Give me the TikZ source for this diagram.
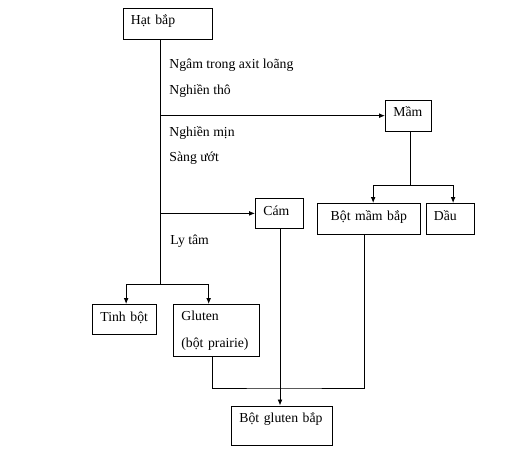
\documentclass[tikz,border=0pt]{standalone}
\usepackage{fontspec}
\setmainfont{Liberation Serif}
\usepackage{tikz}
\usetikzlibrary{arrows.meta}
\tikzset{
  box node/.style={draw,anchor=north west,inner xsep=6pt,inner ysep=0pt,align=left},
  line node/.style={box node,text height=12.75pt},
  label node/.style={anchor=base west,inner sep=0pt}
}

\begin{document}
\begin{tikzpicture}[x=0.75pt,y=-0.75pt,line width=0.6pt,
                    >={Latex[length=4.5pt,width=3.6pt]},
                    every node/.style={font=\fontsize{10.3}{20}\selectfont}]
  \useasboundingbox (0,0) rectangle (517,457);
  % boxes
  \node [line node,text width=55.1pt,text depth=10.9pt] (hat) at (122.5,7.5) {Hạt bắp};
  \node [line node,text width=22.5pt,text depth=10.9pt] (mam) at (385,99.5) {Mầm};
  \node [line node,text width=24pt,text depth=9.75pt] (cam) at (255,198) {Cám};
  \node [line node,inner xsep=10pt,text width=57.25pt,text depth=10.5pt] (botmam) at (317,203) {Bột mầm bắp};
  \node [line node,text width=24.4pt,text depth=10.5pt] (dau) at (425.5,203) {Dầu};
  \node [line node,text width=36pt,text depth=9.75pt] (tinh) at (92,304) {Tinh bột};
  \node [box node,text width=52.5pt,minimum height=39pt] (gluten) at (173,304) {Gluten\\(bột prairie)};
  \node [line node,text width=64.1pt,text depth=16.9pt] (botgluten) at (231,405.5) {Bột gluten bắp};
  % process steps
  \node [label node] (soak) at (169,68.5) {Ngâm trong axit loãng};
  \node [label node] (coarse) at (169,94) {Nghiền thô};
  \node [label node] (fine) at (169,136) {Nghiền mịn};
  \node [label node] (sieve) at (169,161) {Sàng ướt};
  \node [label node] (spin) at (170,244.5) {Ly tâm};
  \coordinate (split) at (160.7,284);
  \coordinate (germsplit) at (410,185);
  \coordinate (merge) at (280,388);
  % connectors
  \draw (hat.south -| split) -- (split);
  \draw [->] (split |- mam.west) -- (mam.west);
  \draw [->] (split |- cam.west) -- (cam.west);
  \draw [->] (split) -| ([xshift=1.3pt]tinh.north);
  \draw [->] (split) -| ([xshift=-5.8pt]gluten.north);
  \draw (mam.south -| germsplit) -- (germsplit);
  \draw [->] (germsplit) -| ([xshift=3.2pt]botmam.north);
  \draw [->] (germsplit) -| ([xshift=2.2pt]dau.north);
  \draw [->] (cam.south -| merge) -- (merge |- botgluten.north);
  \draw ([xshift=-3.2pt]gluten.south) |- (merge) -| ([xshift=-3.4pt]botmam.south);
\end{tikzpicture}
\end{document}
